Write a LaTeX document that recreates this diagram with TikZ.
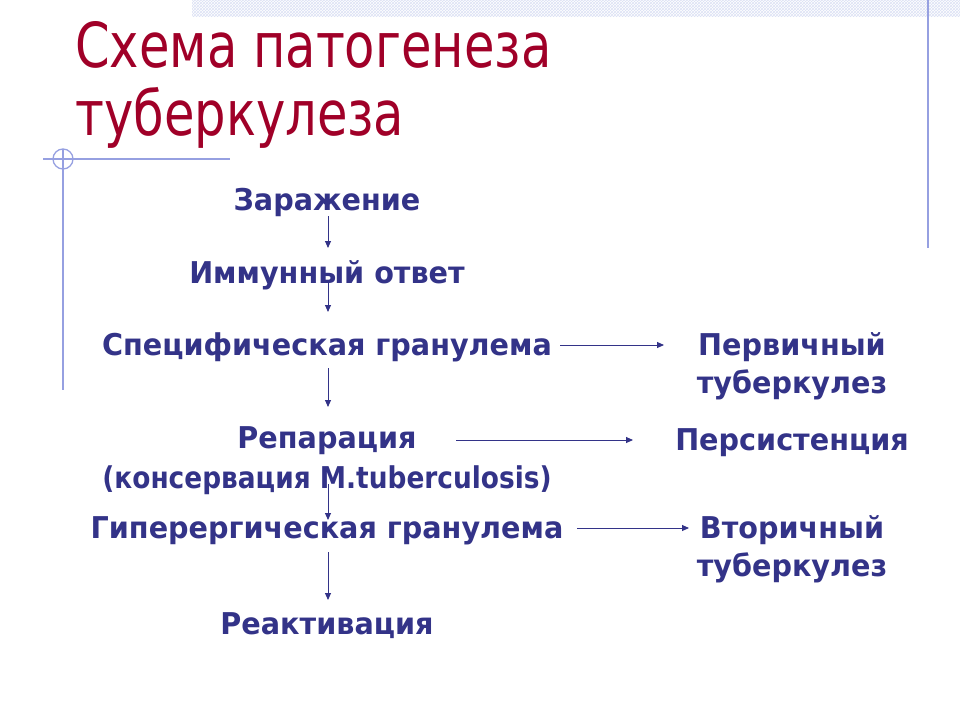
\documentclass[tikz,border=0pt]{standalone}
\usepackage{fontspec}
\setmainfont{DejaVu Sans}
\newfontfamily\titlefont[FakeStretch=0.8]{DejaVu Sans}
\newfontfamily\bodyfont[FakeStretch=0.955]{DejaVu Sans}
\newfontfamily\narrowbodyfont[FakeStretch=0.88]{DejaVu Sans}
\usetikzlibrary{arrows.meta,patterns}
\definecolor{titlered}{RGB}{160,0,40}
\definecolor{bodyblue}{RGB}{51,51,136}
\definecolor{deco}{RGB}{150,160,225}
\definecolor{hatch}{RGB}{220,225,245}
\begin{document}
\begin{tikzpicture}[x=1pt,y=-1pt,
  lbl/.style={anchor=base,text=bodyblue,inner sep=0pt,font=\bodyfont\bfseries\fontsize{30}{36}\selectfont},
  nlbl/.style={lbl,font=\narrowbodyfont\bfseries\fontsize{30}{36}\selectfont},
  ttl/.style={anchor=base west,text=titlered,inner sep=0pt,font=\titlefont\fontsize{62}{70}\selectfont},
  arr/.style={draw=bodyblue,line width=0.9pt,-{Triangle[length=7pt,width=6pt]}},
  decoline/.style={draw=deco,line width=1.3pt}]
\useasboundingbox (0,0) rectangle (960,720);
\fill[white] (0,0) rectangle (960,720);
% top hatch band
\fill[pattern=crosshatch,pattern color=hatch] (192,0) rectangle (960,16);
% decorations
\draw[decoline] (43,159) -- (230,159);
\draw[decoline] (63,149) -- (63,390);
\draw[decoline] (63,159) circle (10);
\draw[decoline] (928,0) -- (928,248);
% title
\node[ttl] (t1) at (75,67) {Схема патогенеза};
\node[ttl] (t2) at (75,135) {туберкулеза};
% labels
\node[lbl] (a) at (327,210) {Заражение};
\node[lbl] (b) at (327,283) {Иммунный ответ};
\node[lbl] (c) at (327,355) {Специфическая гранулема};
\node[lbl] (p1) at (792,355) {Первичный};
\node[lbl] (p2) at (792,393) {туберкулез};
\node[lbl] (d) at (327,448) {Репарация};
\node[nlbl] (d2) at (327,488) {(консервация M.tuberculosis)};
\node[lbl] (pe) at (792,450) {Персистенция};
\node[lbl] (e) at (327,538) {Гиперергическая гранулема};
\node[lbl] (v1) at (792,538) {Вторичный};
\node[lbl] (v2) at (792,576) {туберкулез};
\node[lbl] (f) at (327,634) {Реактивация};
% coordinates for arrows
\coordinate (a1) at (328,216); \coordinate (a2) at (328,248);
\coordinate (b1) at (328,280); \coordinate (b2) at (328,312);
\coordinate (c1) at (328,368); \coordinate (c2) at (328,407);
\coordinate (d1) at (328,484); \coordinate (d2b) at (328,520);
\coordinate (e1) at (328,552); \coordinate (e2) at (328,600);
\coordinate (h1s) at (560,345); \coordinate (h1e) at (664,345);
\coordinate (h2s) at (456,440); \coordinate (h2e) at (633,440);
\coordinate (h3s) at (577,528); \coordinate (h3e) at (689,528);
\draw[arr] (a1) -- (a2);
\draw[arr] (b1) -- (b2);
\draw[arr] (c1) -- (c2);
\draw[arr] (d1) -- (d2b);
\draw[arr] (e1) -- (e2);
\draw[arr] (h1s) -- (h1e);
\draw[arr] (h2s) -- (h2e);
\draw[arr] (h3s) -- (h3e);
\end{tikzpicture}
\end{document}
